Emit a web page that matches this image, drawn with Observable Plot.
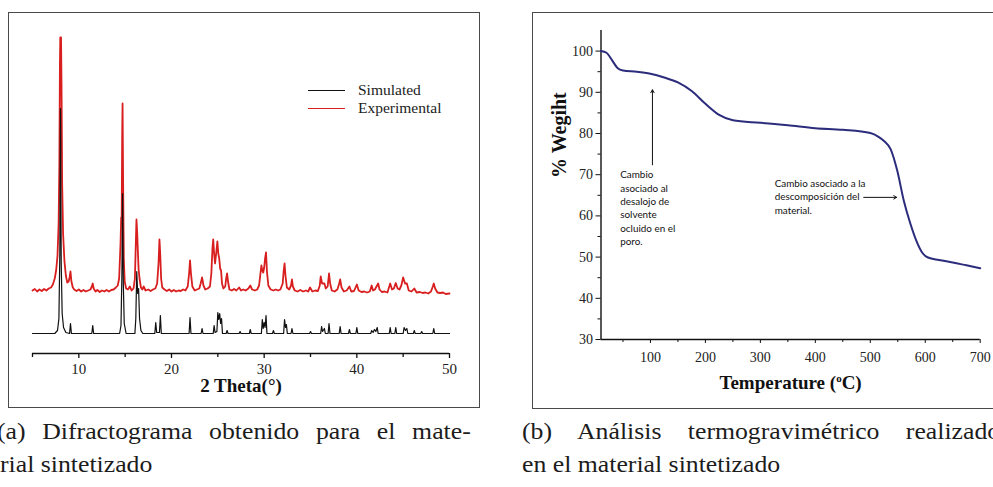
<!DOCTYPE html>
<html><head><meta charset="utf-8">
<script src="https://cdn.jsdelivr.net/npm/d3@7"></script>
<script src="https://cdn.jsdelivr.net/npm/@observablehq/plot@0.6"></script>
<style>
body{margin:0;background:#fff;}
#page{position:relative;width:993px;height:487px;overflow:hidden;background:#fff;}
.frame{position:absolute;border:1.5px solid #4a4a4a;box-sizing:border-box;}
.chart{position:absolute;top:0;}
.cap{position:absolute;font-family:"Liberation Serif",serif;font-size:23px;line-height:23px;color:#1c1c1c;white-space:nowrap;transform:scaleX(1.12);transform-origin:0 0;}
.just{text-align:justify;text-align-last:justify;white-space:normal;}
.leg{position:absolute;font-family:"Liberation Serif",serif;font-size:15.5px;color:#222;line-height:16px;}
.leg span.ln{position:absolute;left:0;top:8px;width:37px;height:0;border-top:1.5px solid;}
.leg span.tx{position:absolute;left:50px;top:0;white-space:nowrap;}
</style></head><body>
<div id="page">
  <div class="frame" style="left:8px;top:12px;width:472px;height:396px;"></div>
  <div class="frame" style="left:532px;top:12px;width:480px;height:397px;"></div>
  <div id="xrd" class="chart" style="left:0;"></div>
  <div id="tga" class="chart" style="left:520px;"></div>
  <div id="legend"></div>
  <div class="cap just" style="left:-3px;top:420px;width:423px;">(a) Difractograma obtenido para el mate-</div>
  <div class="cap" style="left:0px;top:453px;">rial sintetizado</div>
  <div class="cap just" style="left:522px;top:420px;width:427px;">(b) Análisis termogravimétrico realizado</div>
  <div class="cap" style="left:522px;top:453px;">en el material sintetizado</div>
</div>
<script>
// ---------- (a) XRD data: [2θ (°), intensity (a.u.)] ----------
const seriesNames = ["Simulated", "Experimental"];
const seriesColors = ["#111111", "#d81e1e"];
const xrdTicks = [10, 20, 30, 40, 50];
const xrdMinorTicks = [5, 15, 25, 35, 45];

const simulated = [[5,0],[7.4,0],[7.7,3],[7.85,15],[7.95,80],[8.02,225],[8.1,70],[8.2,20],[8.35,6],[8.6,1],[9.0,0],[9.1,10],[9.2,0],
[11.4,0],[11.5,8],[11.6,0],[14.4,0],[14.55,8],[14.65,60],[14.72,140],[14.8,50],[14.9,10],[15.1,0],[16.05,0],[16.15,15],[16.25,62],[16.35,40],[16.45,45],[16.55,15],[16.7,3],[16.9,0],
[18.2,0],[18.3,11],[18.4,1],[18.7,1],[18.8,18],[18.9,0],[21.9,0],[22.0,16],[22.1,0],[23.2,0],[23.3,5],[23.4,0],[24.5,0],[24.6,8],[24.7,1],[24.9,2],[25.0,21],[25.1,14],[25.2,20],[25.3,10],[25.4,15],[25.5,0],
[25.9,0],[26.0,3],[26.1,0],[27.3,0],[27.4,2],[27.5,0],[28.4,0],[28.5,4],[28.6,0],[29.7,0],[29.8,14],[29.9,5],[30.0,11],[30.1,6],[30.2,18],[30.3,0],[30.9,0],[31.0,3],[31.1,0],
[32.1,0],[32.2,14],[32.3,6],[32.4,9],[32.5,0],[32.9,0],[33.0,5],[33.1,0],[34.9,0],[35.0,2],[35.1,0],[36.1,0],[36.2,7],[36.3,2],[36.5,5],[36.6,0],[36.9,0],[37.0,10],[37.1,0],
[38.1,0],[38.2,7],[38.3,0],[39.1,0],[39.2,4],[39.3,0],[39.9,0],[40.0,6],[40.1,0],[41.5,0],[41.6,3],[41.75,1],[41.9,4],[42.05,2],[42.2,6],[42.3,0],[43.5,0],[43.6,6],[43.7,0],
[44.1,0],[44.2,6],[44.3,0],[45.0,0],[45.1,6],[45.25,3],[45.4,5],[45.5,0],[46.1,0],[46.2,3],[46.3,0],[46.9,0],[47.0,2],[47.1,0],[48.2,0],[48.3,5],[48.4,0],[50,0]];

const experimental = [[5.0,43],[5.25,44.5],[5.5,42],[5.75,44],[6.0,42.5],[6.25,44.5],[6.5,43],[6.75,45],[7.0,46],[7.2,49],[7.4,55],[7.55,63],[7.7,78],[7.82,110],[7.9,170],[7.96,270],[8.0,296],[8.08,296],[8.13,250],[8.2,150],[8.3,100],[8.45,72],[8.6,58],[8.75,51],[8.9,52],[9.0,56],[9.1,62],[9.2,52],[9.35,46],[9.5,44],[9.75,42.5],
[10.0,44],[10.25,42],[10.5,43.5],[10.75,42],[11.0,43],[11.25,44],[11.4,47],[11.5,50],[11.6,45],[11.8,42],[12.0,43.5],[12.25,41.5],[12.5,43],[12.75,42],[13.0,43.5],[13.25,42],[13.5,43.5],[13.75,44],[14.0,46],[14.2,48],[14.35,55],[14.5,90],[14.57,116],[14.62,110],[14.68,200],[14.72,230],[14.78,150],[14.85,75],[14.95,52],
[15.1,45],[15.3,44],[15.5,47],[15.7,43],[15.9,45],[16.05,55],[16.15,90],[16.22,114],[16.3,100],[16.38,80],[16.45,64],[16.55,55],[16.7,46],[16.85,44],[17.0,47],[17.2,43],[17.5,44],[17.75,42.5],[18.0,44],[18.25,45],[18.45,50],[18.6,70],[18.7,94],[18.78,80],[18.88,55],[19.0,46],[19.25,44],[19.5,42.5],[19.75,44],
[20.0,42],[20.25,43.5],[20.5,42],[20.75,43],[21.0,42.5],[21.25,44],[21.5,43],[21.75,47],[21.9,60],[22.0,73],[22.1,60],[22.25,47],[22.5,43],[22.75,44],[23.0,45],[23.15,50],[23.3,56],[23.45,48],[23.65,44],[23.9,45],[24.15,47],[24.3,60],[24.42,85],[24.5,94],[24.6,80],[24.7,70],[24.82,80],[24.95,92],[25.05,80],[25.15,75],[25.25,65],[25.35,63],[25.45,50],[25.6,45],[25.8,47],[25.9,55],[26.0,60],[26.1,52],[26.25,44],[26.5,43],[26.75,44.5],
[27.0,43],[27.3,46],[27.5,43],[27.75,44],[28.0,43],[28.3,45],[28.5,48],[28.7,44],[29.0,43],[29.25,44],[29.45,48],[29.6,60],[29.7,68],[29.8,63],[29.9,61],[30.0,66],[30.1,75],[30.2,81],[30.3,62],[30.45,48],[30.7,44],[31.0,43],[31.25,44],[31.5,43],[31.75,44],[32.0,50],[32.1,62],[32.2,70],[32.3,58],[32.45,46],[32.7,44],[32.9,48],[33.0,54],[33.1,47],[33.3,43],[33.6,42],[33.9,43.5],
[34.2,42],[34.5,43],[34.75,42],[34.95,46],[35.2,42],[35.5,43],[35.8,42.5],[36.0,48],[36.1,57],[36.25,50],[36.5,50],[36.65,45],[36.85,47],[37.0,60],[37.12,50],[37.3,43],[37.6,42],[37.9,44],[38.1,50],[38.2,54],[38.35,46],[38.6,42],[38.9,43],[39.2,47],[39.4,42],[39.7,42.5],
[40.0,49],[40.2,43],[40.5,41.5],[40.8,42],[41.1,41],[41.4,42],[41.6,48],[41.75,43],[41.95,44],[42.3,50],[42.45,44],[42.7,41.5],[43.0,42],[43.3,41],[43.6,50],[43.8,44],[44.0,45],[44.2,50.5],[44.4,45],[44.6,44],[44.8,48],[45.0,56],[45.2,50],[45.4,50],[45.6,43],[45.9,42],
[46.2,45],[46.45,41],[46.8,41.5],[47.1,40.5],[47.4,41],[47.7,40],[48.0,42],[48.2,47],[48.3,50],[48.45,45],[48.7,41],[49.0,40.5],[49.3,41],[49.6,39.5],[50.0,40]];

// ---------- (b) TGA data ----------
const temperature = [10, 20, 30, 40, 50, 75, 100, 125, 150, 175, 200, 225, 250, 300, 350, 400, 450, 500, 515, 525, 537, 549, 561, 573, 585, 595, 605, 625, 650, 675, 700];
const weight      = [100, 99.6, 97.8, 95.9, 95.3, 95.0, 94.5, 93.6, 92.4, 90.3, 87.2, 84.5, 83.2, 82.6, 82.0, 81.3, 80.9, 80.1, 79.2, 78.2, 76.2, 71.0, 63.7, 58.1, 53.6, 51.0, 49.9, 49.3, 48.7, 48.0, 47.3];
const tgaXTicks = [100, 200, 300, 400, 500, 600, 700];
const tgaXMinor = [50, 150, 250, 350, 450, 550, 650];
const tgaYTicks = [30, 40, 50, 60, 70, 80, 90, 100];
const tgaYMinor = [35, 45, 55, 65, 75, 85, 95];
const notes = [
  {x: 45, y: 71.5, text: "Cambio\nasociado al\ndesalojo de\nsolvente\nocluido en el\nporo."},
  {x: 326, y: 69.4, text: "Cambio asociado a la\ndescomposición del\nmaterial."}
];
const noteArrows = [
  {x1: 103.6, y1: 72.4, x2: 103.6, y2: 90.6},
  {x1: 488, y1: 64.5, x2: 548, y2: 64.5}
];

const serif = "'Liberation Serif', 'Times New Roman', serif";
const tga = temperature.map((t, i) => ({t, w: weight[i]}));

// ---------- chart (a) ----------
const xrd = Plot.plot({
  width: 480, height: 410,
  marginLeft: 32, marginRight: 31, marginTop: 20, marginBottom: 57,
  style: {background: "transparent", fontFamily: serif, color: "#222"},
  x: {domain: [5, 50]},
  y: {domain: [-20, 313], axis: null},
  marks: [
    Plot.ruleY([-20], {stroke: "#111", strokeWidth: 1.6}),
    Plot.axisX({ticks: xrdTicks, tickSize: 5, tickPadding: 5, fontSize: 15, fontFamily: serif, label: null, stroke: "#111", strokeWidth: 1.3}),
    Plot.axisX({ticks: xrdMinorTicks, tickSize: 4, tickFormat: () => "", label: null, stroke: "#111", strokeWidth: 1.3}),
    Plot.line(experimental, {x: d => d[0], y: d => d[1], stroke: seriesColors[1], strokeWidth: 1.8}),
    Plot.line(simulated, {x: d => d[0], y: d => d[1], stroke: seriesColors[0], strokeWidth: 1.2}),
    Plot.text(["2 Theta(°)"], {frameAnchor: "bottom", dy: 38, fontSize: 19, fontWeight: "bold", fontFamily: serif, fill: "#111"})
  ]
});
document.getElementById("xrd").appendChild(xrd);

// legend
const leg = document.getElementById("legend");
seriesNames.forEach((name, i) => {
  const d = document.createElement("div");
  d.className = "leg";
  d.style.left = "308px";
  d.style.top = (82 + i * 18) + "px";
  d.style.width = "160px"; d.style.height = "18px";
  d.innerHTML = `<span class="ln" style="border-color:${seriesColors[i]}"></span><span class="tx">${name}</span>`;
  leg.appendChild(d);
});

// ---------- chart (b) ----------
const tgaChart = Plot.plot({
  width: 473, height: 410,
  marginLeft: 80.5, marginRight: 13.3, marginTop: 30, marginBottom: 71,
  style: {background: "transparent", fontFamily: serif, color: "#222"},
  x: {domain: [10, 700]},
  y: {domain: [30, 105]},
  marks: [
    Plot.ruleX([10], {stroke: "#111", strokeWidth: 1.4}),
    Plot.ruleY([30], {stroke: "#111", strokeWidth: 1.4}),
    Plot.axisY({ticks: tgaYTicks, tickSize: 5, tickPadding: 3, fontSize: 14, fontFamily: serif, label: null, stroke: "#111"}),
    Plot.axisY({ticks: tgaYMinor, tickSize: 3, tickFormat: () => "", label: null, stroke: "#111"}),
    Plot.axisX({ticks: tgaXTicks, tickSize: 4, tickPadding: 9, fontSize: 14, fontFamily: serif, label: null, stroke: "#111"}),
    Plot.axisX({ticks: tgaXMinor, tickSize: 3, tickFormat: () => "", label: null, stroke: "#111"}),
    Plot.line(tga, {x: "t", y: "w", stroke: "#2c2c7c", strokeWidth: 2, curve: "monotone-x"}),
    Plot.arrow(noteArrows, {x1: "x1", y1: "y1", x2: "x2", y2: "y2", stroke: "#111", strokeWidth: 1, headLength: 5, bend: 0}),
    Plot.text(notes, {x: "x", y: "y", text: "text", textAnchor: "start", lineAnchor: "top", lineHeight: 1.36, fontSize: 9.9, fontFamily: "Lato, sans-serif", fill: "#111"}),
    Plot.text(["% Wegiht"], {frameAnchor: "left", dx: -41, dy: -7, rotate: -90, fontSize: 20, fontWeight: "bold", fontFamily: serif, fill: "#111"}),
    Plot.text(["Temperature (oC)"], {frameAnchor: "bottom", dy: 49, fontSize: 19, fontWeight: "bold", fontFamily: serif, fill: "#111"})
  ]
});
// superscript "o" in the temperature title
tgaChart.querySelectorAll("text").forEach(t => {
  if (t.textContent === "Temperature (oC)") {
    t.textContent = "";
    const ns = "http://www.w3.org/2000/svg";
    const a = document.createElementNS(ns, "tspan"); a.textContent = "Temperature (";
    const b = document.createElementNS(ns, "tspan"); b.textContent = "o"; b.setAttribute("font-size", "11"); b.setAttribute("dy", "-7");
    const c = document.createElementNS(ns, "tspan"); c.textContent = "C)"; c.setAttribute("dy", "7");
    t.append(a, b, c);
  }
});
document.getElementById("tga").appendChild(tgaChart);
</script>
</body></html>
